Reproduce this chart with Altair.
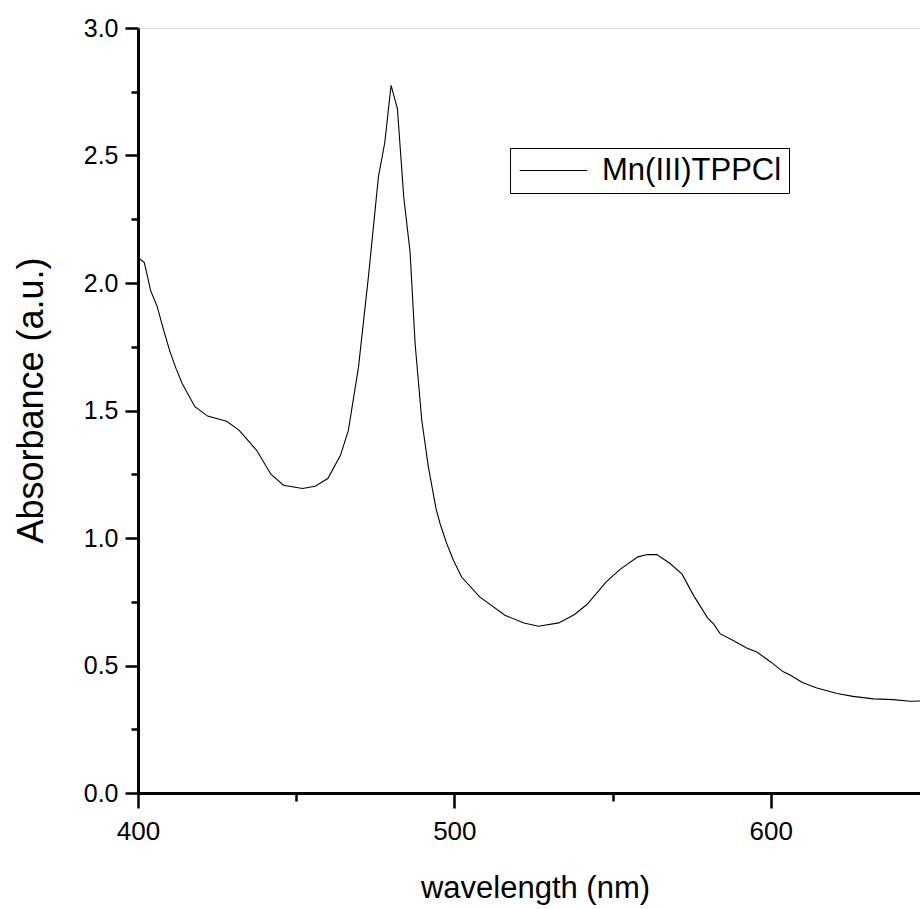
import altair as alt
import pandas as pd

wavelength = [400, 402, 404, 406, 408, 410, 412, 414, 418, 422, 428, 432, 437.5, 442, 446,
              452, 456, 460, 464, 466.5, 469.7, 472.8, 476, 478, 480, 482, 484, 486, 487.6,
              489.7, 491.8, 494.2, 495.5, 497.6, 499.7, 502.3, 508, 516, 522, 526.6, 533,
              538, 542, 548, 552.4, 558, 561, 564, 568, 572, 575.6, 580, 582, 584, 588,
              592.4, 595.6, 600, 604, 606, 610, 614.6, 621, 626, 632.5, 638.8, 644, 647.2]
absorbance = [2.10, 2.08, 1.97, 1.91, 1.82, 1.735, 1.665, 1.605, 1.515, 1.478, 1.458, 1.422,
              1.344, 1.25, 1.207, 1.194, 1.203, 1.233, 1.324, 1.422, 1.67, 2.02, 2.416, 2.55,
              2.775, 2.684, 2.337, 2.122, 1.762, 1.462, 1.278, 1.115, 1.056, 0.978, 0.913,
              0.847, 0.769, 0.697, 0.667, 0.654, 0.667, 0.700, 0.740, 0.828, 0.877, 0.926,
              0.935, 0.935, 0.902, 0.858, 0.775, 0.688, 0.662, 0.625, 0.599, 0.569, 0.553,
              0.514, 0.475, 0.464, 0.433, 0.412, 0.390, 0.379, 0.369, 0.366, 0.360, 0.361]
series_name = "Mn(III)TPPCl"

x_ticks = [400, 450, 500, 550, 600]
y_ticks = [0, 0.25, 0.5, 0.75, 1.0, 1.25, 1.5, 1.75, 2.0, 2.25, 2.5, 2.75, 3.0]

df = pd.DataFrame({"wl": wavelength, "abs": absorbance, "series": series_name})

FONT = "Liberation Sans, Arial, sans-serif"

x_axis = alt.Axis(
    values=x_ticks,
    title="wavelength (nm)",
    titleFont=FONT, titleFontSize=31, titleFontWeight="normal", titleColor="black",
    titleX=397, titleY=104, titleBaseline="alphabetic", titleAlign="center",
    labelFont=FONT, labelFontSize=26, labelColor="black",
    labelExpr="datum.value % 100 === 0 ? datum.label : ''",
    labelPadding=10, labelOverlap=False, labelFlush=False,
    tickSize={"condition": {"test": "datum.value % 100 === 0", "value": 15}, "value": 8},
    tickWidth=2.5, tickColor="black",
    domainColor="black", domainWidth=3, grid=False,
)
y_axis = alt.Axis(
    values=y_ticks,
    title="Absorbance (a.u.)",
    titleFont=FONT, titleFontSize=36, titleFontWeight="normal", titleColor="black",
    titleX=-96, titleY=372, titleAngle=270, titleBaseline="alphabetic", titleAlign="center",
    labelFont=FONT, labelFontSize=25, labelColor="black",
    labelExpr="abs(datum.value*2 - round(datum.value*2)) < 1e-6 ? format(datum.value, '.1f') : ''",
    labelPadding=7, labelOverlap=False, labelFlush=False,
    tickSize={"condition": {"test": "abs(datum.value*2 - round(datum.value*2)) < 1e-6", "value": 13}, "value": 7},
    tickWidth=2.5, tickColor="black",
    domainColor="black", domainWidth=3, grid=False,
)

chart = alt.Chart(df).mark_line(strokeWidth=1.1, clip=True).encode(
    x=alt.X("wl:Q", scale=alt.Scale(domain=[400, 647.2], nice=False, zero=False), axis=x_axis),
    y=alt.Y("abs:Q", scale=alt.Scale(domain=[0, 3], nice=False), axis=y_axis),
    color=alt.Color("series:N", scale=alt.Scale(domain=[series_name], range=["black"]),
                    legend=alt.Legend(
                        title=None, orient="none", legendX=372, legendY=120,
                        strokeColor="black", padding=7, fillColor="white",
                        symbolType="M-2.6,0H2.6", symbolSize=676, symbolStrokeWidth=1.1,
                        symbolOffset=21,
                        labelFont=FONT, labelFontSize=31, labelColor="black",
                        labelOffset=33, labelLimit=0,
                    )),
).properties(
    width=782, height=765,
    autosize=alt.AutoSizeParams(type="none"),
    padding={"left": 138, "top": 28, "right": 0, "bottom": 116},
).configure_view(stroke=None).configure(background="white")

chart.save("out.html", embed_options={"renderer": "svg", "actions": False})
